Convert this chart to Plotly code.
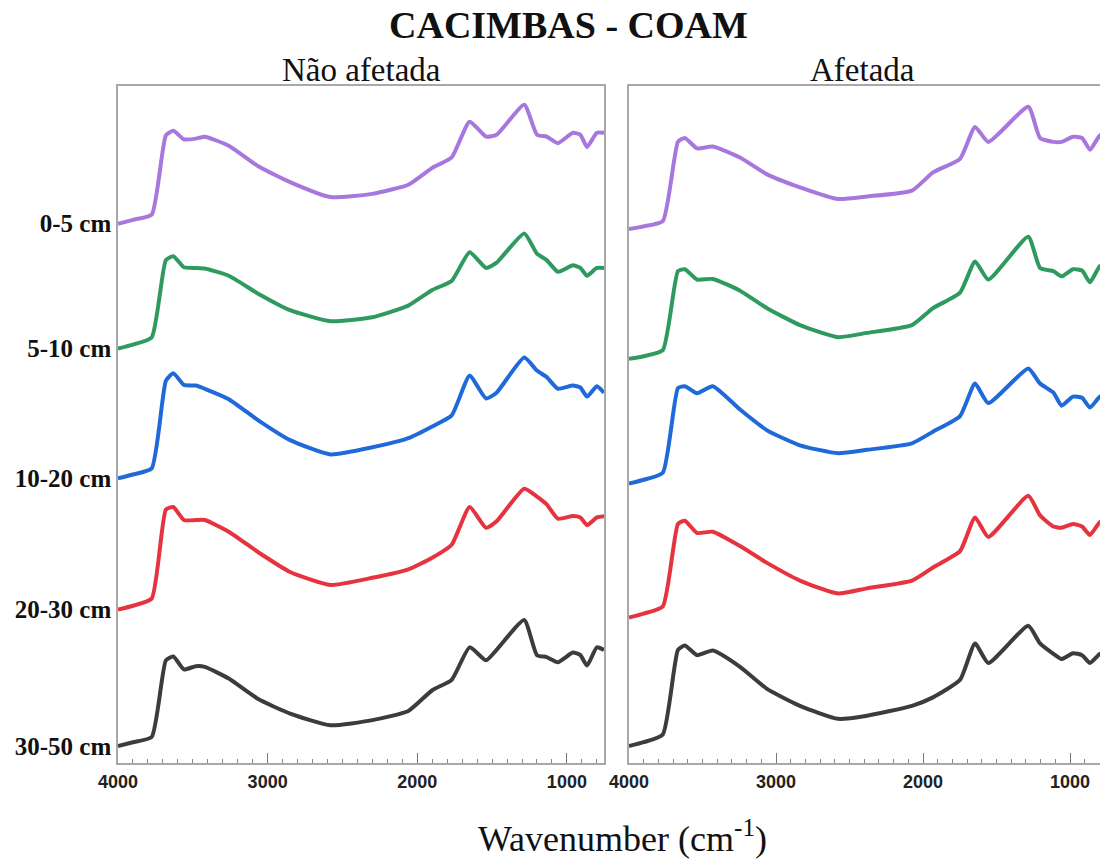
import plotly.graph_objects as go

# ---------------- data ----------------
depths = ["0-5 cm", "5-10 cm", "10-20 cm", "20-30 cm", "30-50 cm"]
colors = ["#a877de", "#2f9a5f", "#1f6ad8", "#e5333f", "#3c3c3c"]

# stacking offsets (relative units)
offsets_left = [4.02, 3.06, 2.06, 1.05, 0.0]
offsets_right = [3.98, 2.98, 2.02, 0.99, 0.0]

# Nao afetada (left panel)
wn_left = [4000, 3900, 3775, 3680, 3630, 3560, 3480, 3420, 3260, 3060, 2850, 2580,
           2300, 2060, 1900, 1770, 1650, 1540, 1470, 1285, 1200, 1135, 1060, 960,
           910, 865, 800, 752]
left_0_5 = [0, 0.03, 0.07, 0.68, 0.715, 0.65, 0.655, 0.67, 0.60, 0.44, 0.32, 0.205,
            0.23, 0.30, 0.43, 0.51, 0.785, 0.67, 0.685, 0.915, 0.685, 0.67, 0.62, 0.70,
            0.685, 0.59, 0.70, 0.70]
left_5_10 = [0, 0.03, 0.085, 0.68, 0.71, 0.625, 0.62, 0.615, 0.56, 0.42, 0.295, 0.21,
             0.24, 0.33, 0.45, 0.52, 0.74, 0.62, 0.66, 0.885, 0.73, 0.68, 0.59, 0.64,
             0.62, 0.56, 0.62, 0.62]
left_10_20 = [0, 0.03, 0.077, 0.75, 0.81, 0.72, 0.715, 0.69, 0.61, 0.445, 0.295, 0.185,
              0.24, 0.31, 0.40, 0.485, 0.79, 0.615, 0.66, 0.93, 0.83, 0.78, 0.69, 0.715,
              0.70, 0.63, 0.71, 0.66]
left_20_30 = [0, 0.03, 0.085, 0.77, 0.79, 0.69, 0.69, 0.69, 0.60, 0.44, 0.29, 0.19,
              0.245, 0.31, 0.40, 0.50, 0.79, 0.63, 0.68, 0.93, 0.87, 0.81, 0.70, 0.72,
              0.71, 0.65, 0.71, 0.72]
left_30_50 = [0, 0.03, 0.07, 0.66, 0.69, 0.59, 0.615, 0.61, 0.52, 0.36, 0.25, 0.16,
              0.20, 0.27, 0.43, 0.51, 0.76, 0.66, 0.74, 0.97, 0.70, 0.685, 0.645, 0.72,
              0.70, 0.62, 0.76, 0.74]

# Afetada (right panel)
wn_right = [4000, 3900, 3770, 3667, 3620, 3537, 3430, 3245, 3061, 2837, 2578, 2381,
            2075, 1932, 1748, 1646, 1556, 1284, 1204, 1113, 1057, 980, 918, 864, 796, 752]
right_0_5 = [0, 0.02, 0.06, 0.67, 0.70, 0.62, 0.635, 0.55, 0.42, 0.32, 0.23, 0.25,
             0.295, 0.435, 0.54, 0.785, 0.67, 0.94, 0.70, 0.67, 0.67, 0.71, 0.70, 0.61, 0.72, 0.72]
right_5_10 = [0, 0.02, 0.067, 0.675, 0.69, 0.61, 0.615, 0.525, 0.39, 0.26, 0.167, 0.20,
              0.26, 0.39, 0.51, 0.75, 0.61, 0.94, 0.70, 0.675, 0.635, 0.69, 0.68, 0.59, 0.715, 0.715]
right_10_20 = [0, 0.03, 0.084, 0.735, 0.75, 0.695, 0.75, 0.57, 0.41, 0.295, 0.234, 0.26,
               0.31, 0.40, 0.52, 0.77, 0.62, 0.886, 0.77, 0.70, 0.60, 0.67, 0.66, 0.585, 0.67, 0.67]
right_20_30 = [0, 0.03, 0.084, 0.72, 0.745, 0.65, 0.66, 0.55, 0.42, 0.284, 0.184, 0.224,
               0.284, 0.385, 0.51, 0.77, 0.62, 0.936, 0.786, 0.70, 0.69, 0.72, 0.70, 0.635, 0.735, 0.735]
right_30_50 = [0, 0.03, 0.09, 0.74, 0.775, 0.70, 0.735, 0.61, 0.44, 0.31, 0.21, 0.234,
               0.31, 0.375, 0.51, 0.79, 0.64, 0.926, 0.79, 0.71, 0.67, 0.715, 0.70, 0.64, 0.71, 0.71]

x_ticks = [4000, 3000, 2000, 1000]

left_series = [left_0_5, left_5_10, left_10_20, left_20_30, left_30_50]
right_series = [right_0_5, right_5_10, right_10_20, right_20_30, right_30_50]

# ---------------- figure ----------------
fig = go.Figure()

line_kw = dict(width=4, shape="spline", smoothing=0.5)
for i, name in enumerate(depths):
    fig.add_trace(go.Scatter(
        x=wn_left, y=[v + offsets_left[i] for v in left_series[i]],
        mode="lines", line=dict(color=colors[i], **line_kw),
        name=name, showlegend=False, xaxis="x", yaxis="y"))
    fig.add_trace(go.Scatter(
        x=wn_right, y=[v + offsets_right[i] for v in right_series[i]],
        mode="lines", line=dict(color=colors[i], **line_kw),
        name=name, showlegend=False, xaxis="x2", yaxis="y2"))

W, H = 1100, 861
ydom = [1 - 763 / H, 1 - 86 / H]
frame = "#a8a8a8"
tickfont = dict(family="Liberation Sans, Arial, sans-serif", size=18, color="#222222")

xcommon = dict(
    showline=True, linecolor=frame, linewidth=1.5, mirror=True, automargin=False,
    ticks="inside", ticklen=10, tickwidth=1.2, tickcolor="#777777",
    tickvals=x_ticks, ticktext=["<b>%d</b>" % t for t in x_ticks],
    tickfont=tickfont, showgrid=False, zeroline=False, ticklabelstandoff=2,
    minor=dict(dtick=100, ticks="inside", ticklen=4, tickcolor="#888888", tickwidth=1, showgrid=False),
)

serif = "Liberation Serif, Times New Roman, serif"

fig.update_layout(
    width=W, height=H,
    margin=dict(l=0, r=0, t=0, b=0),
    paper_bgcolor="white", plot_bgcolor="white",
    xaxis=dict(domain=[118 / W, 604 / W], range=[4000, 752], anchor="y", **xcommon),
    xaxis2=dict(domain=[629 / W, 1.0], range=[4000, 796], anchor="y2", **xcommon),
    yaxis=dict(domain=ydom, range=[-0.13, 5.08], anchor="x", automargin=False,
               showline=True, linecolor=frame, linewidth=1.5, mirror=True,
               tickvals=offsets_left, ticktext=["<b>%s</b>" % d for d in depths],
               tickfont=dict(family=serif, size=25, color="#111111"),
               ticks="", ticklabelstandoff=0, showgrid=False, zeroline=False),
    yaxis2=dict(domain=ydom, range=[-0.13, 5.08], anchor="x2", automargin=False,
                showline=True, linecolor=frame, linewidth=1.5, mirror=False,
                showticklabels=False, ticks="", showgrid=False, zeroline=False),
    annotations=[
        dict(text="<b>CACIMBAS - COAM</b>", x=568 / W, y=1 - 25 / H, xref="paper", yref="paper",
             showarrow=False, font=dict(family=serif, size=38, color="#111111"),
             xanchor="center", yanchor="middle"),
        dict(text="Não afetada", x=361 / W, y=1 - 70 / H, xref="paper", yref="paper",
             showarrow=False, font=dict(family=serif, size=33, color="#111111"),
             xanchor="center", yanchor="middle"),
        dict(text="Afetada", x=862 / W, y=1 - 70 / H, xref="paper", yref="paper",
             showarrow=False, font=dict(family=serif, size=33, color="#111111"),
             xanchor="center", yanchor="middle"),
        dict(text="Wavenumber (cm<sup>-1</sup>)", x=622 / W, y=1 - 836 / H, xref="paper", yref="paper",
             showarrow=False, font=dict(family=serif, size=36, color="#111111"),
             xanchor="center", yanchor="middle"),
    ],
)

fig.write_html("out.html")
